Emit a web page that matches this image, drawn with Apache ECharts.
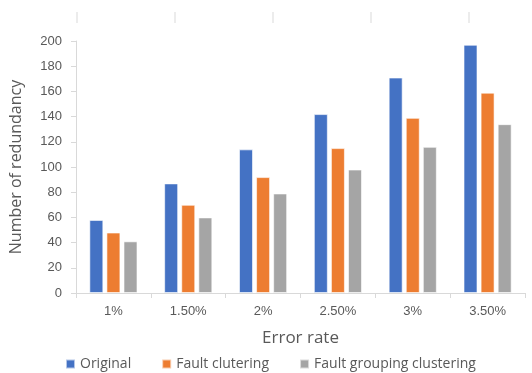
<!DOCTYPE html>
<html>
<head>
<meta charset="utf-8">
<script src="https://cdn.jsdelivr.net/npm/echarts@6/dist/echarts.min.js"></script>
<style>
  html, body { margin: 0; padding: 0; background: #fff; }
  #chart { width: 532px; height: 373px; }
</style>
</head>
<body>
<div id="chart"></div>
<script>
const categories = ['1%', '1.50%', '2%', '2.50%', '3%', '3.50%'];
const original = [58, 87, 114, 142, 171, 197];
const faultClutering = [48, 70, 92, 115, 139, 159];
const faultGrouping = [41, 60, 79, 98, 116, 134];
const yTicks = { min: 0, max: 200, interval: 20 };

const textColor = '#595959';
const fontFamily = '"Liberation Sans", Arial, sans-serif';
const wideFont = '"Open Sans", sans-serif';

const myChart = echarts.init(document.getElementById('chart'));

// stray tick marks at the very top of the picture
const topMarks = [77, 175, 273, 371, 469].map(x => ({
  type: 'line',
  shape: { x1: x, y1: 12, x2: x, y2: 23 },
  style: { stroke: '#d9d9d9', lineWidth: 1 }
}));

const barStyle = (color) => ({
  color: color,
  borderColor: 'rgba(255,255,255,0.6)',
  borderWidth: 1
});

const option = {
  backgroundColor: '#fff',
  animation: false,
  textStyle: { fontFamily: fontFamily },
  graphic: topMarks,
  grid: { left: 73, right: 7, top: 41, bottom: 80 },
  legend: {
    left: 60,
    top: 352,
    itemWidth: 9,
    itemHeight: 9,
    itemGap: 30,
    icon: 'rect',
    textStyle: { color: textColor, fontSize: 14, fontFamily: wideFont },
    data: ['Original', 'Fault clutering', 'Fault grouping clustering']
  },
  xAxis: {
    type: 'category',
    data: categories,
    name: 'Error rate',
    nameLocation: 'middle',
    nameGap: 37,
    nameTextStyle: { color: textColor, fontSize: 17, fontFamily: wideFont },
    axisLine: { lineStyle: { color: '#d9d9d9' } },
    axisTick: { show: true, length: 5, lineStyle: { color: '#d9d9d9' } },
    axisLabel: { color: textColor, fontSize: 13, margin: 12 }
  },
  yAxis: {
    type: 'value',
    min: yTicks.min,
    max: yTicks.max,
    interval: yTicks.interval,
    name: 'Number of redundancy',
    nameLocation: 'middle',
    nameGap: 52,
    nameTextStyle: { color: textColor, fontSize: 16, fontFamily: wideFont },
    axisLine: { show: true, lineStyle: { color: '#d9d9d9' } },
    axisTick: { show: true, length: 5, lineStyle: { color: '#d9d9d9' } },
    axisLabel: { color: textColor, fontSize: 13, margin: 14 },
    splitLine: { show: false }
  },
  series: [
    {
      name: 'Original',
      type: 'bar',
      data: original,
      barWidth: 14,
      barGap: '22%',
      itemStyle: barStyle('#4472c4')
    },
    {
      name: 'Fault clutering',
      type: 'bar',
      data: faultClutering,
      barWidth: 14,
      barGap: '22%',
      itemStyle: barStyle('#ed7d31')
    },
    {
      name: 'Fault grouping clustering',
      type: 'bar',
      data: faultGrouping,
      barWidth: 14,
      barGap: '22%',
      itemStyle: barStyle('#a5a5a5')
    }
  ]
};

myChart.setOption(option);
</script>
</body>
</html>
